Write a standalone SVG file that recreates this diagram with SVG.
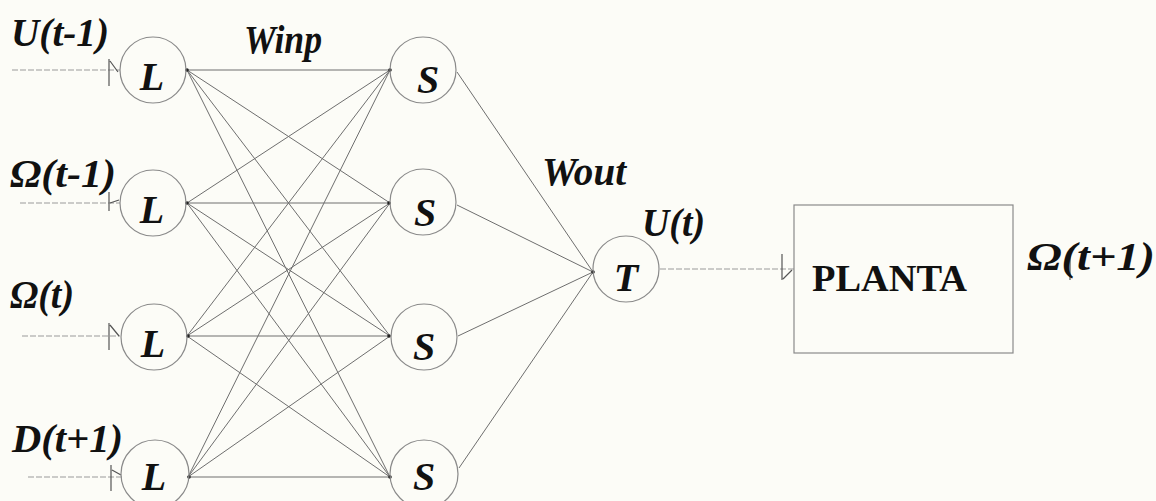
<svg xmlns="http://www.w3.org/2000/svg" width="1156" height="501" viewBox="0 0 1156 501">
<style>
.bg{fill:#fcfcf7}
.nd{fill:none;stroke:#8a8a8a;stroke-width:1.2}
.ln{stroke:#6e6e6e;stroke-width:1;fill:none}
.lt{stroke:#9a9a9a;stroke-width:1;fill:none;stroke-dasharray:6 2}
.tk{stroke:#555;stroke-width:1.2;fill:none}
.dot{fill:#222}
.lbl{font-family:"Liberation Serif","Times New Roman",serif;font-style:italic;font-weight:bold;fill:#111}
.big{font-size:41px}
.nl{font-size:40px;text-anchor:middle}
.pl{font-family:"Liberation Serif","Times New Roman",serif;font-weight:bold;font-size:37px;fill:#111}
</style>
<rect class="bg" x="0" y="0" width="1156" height="501"/>

<g id="connectors">
  <!-- inputs -->
  <line class="lt" x1="12" y1="70" x2="120" y2="70"/>
  <line class="lt" x1="20" y1="203" x2="120" y2="203"/>
  <line class="lt" x1="22" y1="336" x2="120" y2="336"/>
  <line class="lt" x1="28" y1="477" x2="122" y2="477"/>
  <path class="tk" d="M109 59 V86 M110 61 L118 72"/>
  <path class="tk" d="M109 192 V211 M110 203 L119 200"/>
  <path class="tk" d="M109 323 V350 M110 325 L119 336"/>
  <path class="tk" d="M111 465 V491 M112 470 L121 475"/>
  <!-- L to S -->
  <g class="ln">
    <line x1="187" y1="70" x2="390" y2="70"/>
    <line x1="187" y1="70" x2="390" y2="203"/>
    <line x1="187" y1="70" x2="390" y2="336"/>
    <line x1="187" y1="70" x2="390" y2="477"/>
    <line x1="187" y1="203" x2="390" y2="70"/>
    <line x1="187" y1="203" x2="390" y2="203"/>
    <line x1="187" y1="203" x2="390" y2="336"/>
    <line x1="187" y1="203" x2="390" y2="477"/>
    <line x1="187" y1="336" x2="390" y2="70"/>
    <line x1="187" y1="336" x2="390" y2="203"/>
    <line x1="187" y1="336" x2="390" y2="336"/>
    <line x1="187" y1="336" x2="390" y2="477"/>
    <line x1="188" y1="477" x2="390" y2="70"/>
    <line x1="188" y1="477" x2="390" y2="203"/>
    <line x1="188" y1="477" x2="390" y2="336"/>
    <line x1="188" y1="477" x2="390" y2="477"/>
  </g>
  <!-- S to T -->
  <g class="ln">
    <line x1="457" y1="72" x2="593" y2="272"/>
    <line x1="457" y1="205" x2="593" y2="272"/>
    <line x1="458" y1="336" x2="593" y2="272"/>
    <line x1="459" y1="468" x2="593" y2="272"/>
  </g>
  <!-- T to PLANTA -->
  <line class="lt" x1="660" y1="269" x2="794" y2="269"/>
  <path class="tk" d="M782 254 V280 M783 279 L792 270"/>
  <!-- output tick -->
  <path class="tk" d="M1070 256 V280"/>
  <g class="dot">
    <circle cx="187" cy="70" r="1.8"/>
    <circle cx="187" cy="203" r="1.8"/>
    <circle cx="188" cy="336" r="1.8"/>
    <circle cx="189" cy="477" r="1.8"/>
    <circle cx="390" cy="70" r="1.8"/>
    <circle cx="389" cy="203" r="1.8"/>
    <circle cx="389" cy="336" r="1.8"/>
    <circle cx="390" cy="477" r="1.8"/>
    <circle cx="593" cy="272" r="1.8"/>
  </g>
</g>

<g id="L1"><circle class="nd" cx="153" cy="70" r="33"/><text class="lbl nl" x="152" y="90">L</text></g>
<g id="L2"><circle class="nd" cy="203" cx="153" r="33"/><text class="lbl nl" x="152" y="223">L</text></g>
<g id="L3"><circle class="nd" cx="154" cy="337" r="33"/><text class="lbl nl" x="153" y="357">L</text></g>
<g id="L4"><circle class="nd" cx="155" cy="474" r="34"/><text class="lbl nl" x="154" y="490">L</text></g>

<g id="S1"><circle class="nd" cx="423" cy="70" r="33"/><text class="lbl nl" x="428" y="93">S</text></g>
<g id="S2"><circle class="nd" cx="423" cy="202" r="33"/><text class="lbl nl" x="425" y="226">S</text></g>
<g id="S3"><circle class="nd" cx="424" cy="337" r="33"/><text class="lbl nl" x="424" y="360">S</text></g>
<g id="S4"><circle class="nd" cx="424" cy="474" r="34"/><text class="lbl nl" x="424" y="490">S</text></g>

<g id="T"><circle class="nd" cx="626" cy="269" r="33"/><text class="lbl nl" x="626" y="291">T</text></g>

<g id="PLANTA"><rect class="nd" x="794" y="205" width="219" height="148"/><text class="pl" x="812" y="291" textLength="155" lengthAdjust="spacingAndGlyphs">PLANTA</text></g>

<g id="labels">
  <text class="lbl big" x="11" y="46" textLength="98" lengthAdjust="spacingAndGlyphs">U(t-1)</text>
  <text class="lbl big" x="10" y="187" textLength="106" lengthAdjust="spacingAndGlyphs">Ω(t-1)</text>
  <text class="lbl big" x="10" y="308" textLength="64" lengthAdjust="spacingAndGlyphs">Ω(t)</text>
  <text class="lbl big" x="12" y="452" textLength="111" lengthAdjust="spacingAndGlyphs">D(t+1)</text>
  <text class="lbl big" x="244" y="53" textLength="78" lengthAdjust="spacingAndGlyphs">Winp</text>
  <text class="lbl big" x="542" y="185" textLength="84" lengthAdjust="spacingAndGlyphs">Wout</text>
  <text class="lbl big" x="642" y="236" textLength="63" lengthAdjust="spacingAndGlyphs">U(t)</text>
  <text class="lbl big" x="1027" y="270" textLength="128" lengthAdjust="spacingAndGlyphs">Ω(t+1)</text>
</g>
</svg>
